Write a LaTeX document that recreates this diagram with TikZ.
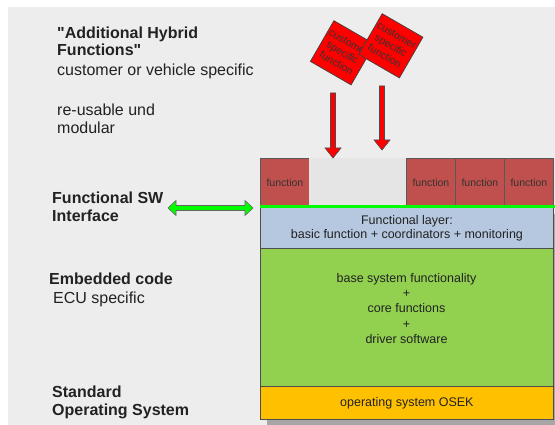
\documentclass[tikz,border=0pt]{standalone}
\usepackage{fontspec}
\setmainfont{Liberation Sans}
\newfontfamily\qfont{Liberation Sans}[Ligatures=TeXOff]
\usetikzlibrary{calc}
\definecolor{bg}{HTML}{EDEDED}
\definecolor{slotgray}{HTML}{E5E5E5}
\definecolor{fnred}{HTML}{C0504D}
\definecolor{layblue}{HTML}{B6C8E0}
\definecolor{laygreen}{HTML}{92D050}
\definecolor{layorange}{HTML}{FFC000}
\definecolor{txt}{HTML}{222222}
\definecolor{edge}{HTML}{4D4D4D}
\definecolor{shadowgray}{HTML}{A6A6A6}
\begin{document}
\begin{tikzpicture}[x=1pt,y=-1pt,
  lbl/.style={anchor=base west, inner sep=0pt, font=\fontsize{16}{18}\selectfont, text=txt},
  blbl/.style={anchor=base west, inner sep=0pt, font=\fontsize{16}{18}\selectfont\bfseries, text=txt},
  layer/.style={draw=edge, line width=0.8pt, inner sep=0pt, anchor=north west, minimum width=293pt, text=txt, font=\fontsize{12.5}{13}\selectfont, align=center},
  fnbox/.style={draw=black!65, line width=0.8pt, fill=fnred, anchor=north west, minimum width=49pt, minimum height=49pt, inner sep=0pt, font=\fontsize{10.5}{12}\selectfont, text=black!80},
  cust/.style={draw=black!75, line width=0.7pt, fill=red, minimum size=47pt, inner sep=0pt, rotate=-30, align=center, font=\fontsize{10.5}{12}\selectfont, text=black!80},
  redarrow/.style={fill=red, draw=black!70, line width=0.6pt, line join=miter},
  greenarrow/.style={fill=green, draw=black!60, line width=0.6pt, line join=miter},
  stacktext/.style={inner sep=0pt, align=center, text=txt, font=\fontsize{12.5}{15.3}\selectfont}
]
\useasboundingbox (0,0) rectangle (555,425);
\fill[white] (0,0) rectangle (555,425);
\fill[bg] (8,7) rectangle (555,425);

% shadow
\fill[shadowgray] (267,214) rectangle (560,426);

% layers
\node[layer, fill=layblue, minimum height=41pt] (func) at (260,207) {Functional layer:\\[1pt]basic function + coordinators + monitoring};
\node[layer, fill=laygreen, minimum height=138pt] (emb) at (260,248) {};
\node[layer, fill=layorange, minimum height=33pt] (os) at (260,386) {operating system OSEK};
\node[stacktext] (embtext) at (406.5,308.5) {base system functionality\\+\\core functions\\+\\driver software};

% function boxes and slot
\node[fnbox] (f1) at (260,158) {function};
\node[fill=slotgray, anchor=north west, minimum width=97pt, minimum height=49pt, inner sep=0pt] (slot) at (309,158) {};
\node[fnbox] (f2) at (406,158) {function};
\node[fnbox] (f3) at (455,158) {function};
\node[fnbox] (f4) at (504,158) {function};

% interface line
\coordinate (il) at (260,207);
\coordinate (ir) at (555,207);
\draw[green, line width=3pt] (il) -- (ir);

% red arrows
\coordinate (ra1) at (333,93);
\coordinate (ra2) at (333,158);
\filldraw[redarrow] ($(ra1)+(-2.5,0)$) -- ($(ra2)+(-2.5,-10)$) -- ($(ra2)+(-8,-10)$) -- (ra2) -- ($(ra2)+(8,-10)$) -- ($(ra2)+(2.5,-10)$) -- ($(ra1)+(2.5,0)$) -- cycle;
\coordinate (rb1) at (382,86);
\coordinate (rb2) at (382,150);
\filldraw[redarrow] ($(rb1)+(-2.5,0)$) -- ($(rb2)+(-2.5,-10)$) -- ($(rb2)+(-8,-10)$) -- (rb2) -- ($(rb2)+(8,-10)$) -- ($(rb2)+(2.5,-10)$) -- ($(rb1)+(2.5,0)$) -- cycle;

% green double arrow
\coordinate (ga) at (168,208);
\coordinate (gb) at (253,208);
\filldraw[greenarrow] (ga) -- ($(ga)+(8,-7.5)$) -- ($(ga)+(8,-2.5)$) -- ($(gb)+(-8,-2.5)$) -- ($(gb)+(-8,-7.5)$) -- (gb) -- ($(gb)+(-8,7.5)$) -- ($(gb)+(-8,2.5)$) -- ($(ga)+(8,2.5)$) -- ($(ga)+(8,7.5)$) -- cycle;

% customer specific squares
\node[cust] (c1) at (342.5,52.8) {customer\\specific\\function};
\node[cust] (c2) at (390.8,45.8) {customer\\specific\\function};

% left labels
\node[blbl] (t1) at (57,39) {{\qfont\bfseries "}Additional Hybrid};
\node[blbl] (t2) at (57,56) {Functions{\qfont\bfseries "}};
\node[lbl] (t3) at (57,76) {customer or vehicle specific};
\node[lbl] (t4) at (57,116) {re-usable und};
\node[lbl] (t5) at (57,134) {modular};

\node[blbl] (s1) at (52,204) {Functional SW};
\node[blbl] (s2) at (52,222) {Interface};
\node[blbl] (e1) at (49,285) {Embedded code};
\node[lbl] (e2) at (53,303) {ECU specific};
\node[blbl] (o1) at (52,397) {Standard};
\node[blbl] (o2) at (52,415) {Operating System};
\end{tikzpicture}
\end{document}
